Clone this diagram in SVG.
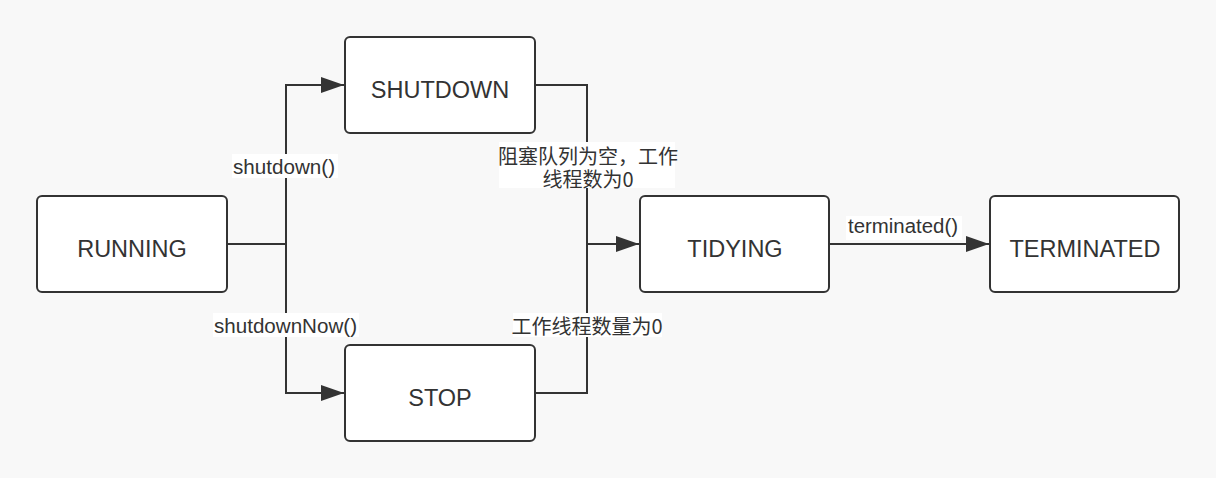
<svg xmlns="http://www.w3.org/2000/svg" width="1216" height="478" viewBox="0 0 1216 478">
<style>
.node rect{fill:#ffffff;stroke:#333333;stroke-width:2}
.node text{font-family:"Liberation Sans","Noto Sans CJK SC",sans-serif;font-size:23.5px;fill:#333333;text-anchor:middle}
.conn path{fill:none;stroke:#333333;stroke-width:2}
.lbl rect{fill:#ffffff;stroke:none}
.lbl text{font-family:"Liberation Sans","Noto Sans CJK SC",sans-serif;font-size:20px;fill:#333333;text-anchor:middle}
.lbl text.cjk{font-family:"Noto Sans CJK SC",sans-serif;dominant-baseline:central}
</style>
<defs>
<marker id="arr" markerUnits="userSpaceOnUse" markerWidth="24" markerHeight="16" refX="23" refY="8" orient="auto">
<path d="M0,0 L23,8 L0,16 Z" fill="#333333"/>
</marker>
</defs>
<rect width="1216" height="478" fill="#f8f8f8"/>
<g id="connectors" class="conn">
<path d="M227,244 H286"/>
<path d="M286,244 V85 H344" marker-end="url(#arr)"/>
<path d="M286,244 V393 H344" marker-end="url(#arr)"/>
<path d="M535,85 H587 V244"/>
<path d="M535,393 H587 V244"/>
<path d="M587,244 H639" marker-end="url(#arr)"/>
<path d="M829,244 H989" marker-end="url(#arr)"/>
</g>
<g id="labels" class="lbl">
<g id="lbl-shutdown"><rect x="232" y="154" width="106" height="24"/><text x="284" y="174" textLength="102" lengthAdjust="spacingAndGlyphs">shutdown()</text></g>
<g id="lbl-shutdownNow"><rect x="213" y="313" width="146" height="24"/><text x="285.5" y="333" textLength="143" lengthAdjust="spacingAndGlyphs">shutdownNow()</text></g>
<g id="lbl-empty"><rect x="499" y="142" width="176" height="46"/><text class="cjk" x="588" y="155.5">阻塞队列为空，工作</text><text class="cjk" x="588" y="178.5">线程数为0</text></g>
<g id="lbl-zero"><rect x="513" y="313" width="149" height="24"/><text class="cjk" x="587" y="325">工作线程数量为0</text></g>
<g id="lbl-terminated"><rect x="846" y="216" width="116" height="24"/><text x="903" y="233" textLength="110" lengthAdjust="spacingAndGlyphs">terminated()</text></g>
</g>
<g id="RUNNING" class="node"><rect x="37" y="196" width="190" height="96" rx="5"/><text x="132" y="256.5">RUNNING</text></g>
<g id="SHUTDOWN" class="node"><rect x="345" y="37" width="190" height="96" rx="5"/><text x="440" y="97.5">SHUTDOWN</text></g>
<g id="STOP" class="node"><rect x="345" y="345" width="190" height="96" rx="5"/><text x="440" y="405.5">STOP</text></g>
<g id="TIDYING" class="node"><rect x="640" y="196" width="189" height="96" rx="5"/><text x="735" y="256.5">TIDYING</text></g>
<g id="TERMINATED" class="node"><rect x="990" y="196" width="189" height="96" rx="5"/><text x="1085" y="256.5">TERMINATED</text></g>
</svg>
